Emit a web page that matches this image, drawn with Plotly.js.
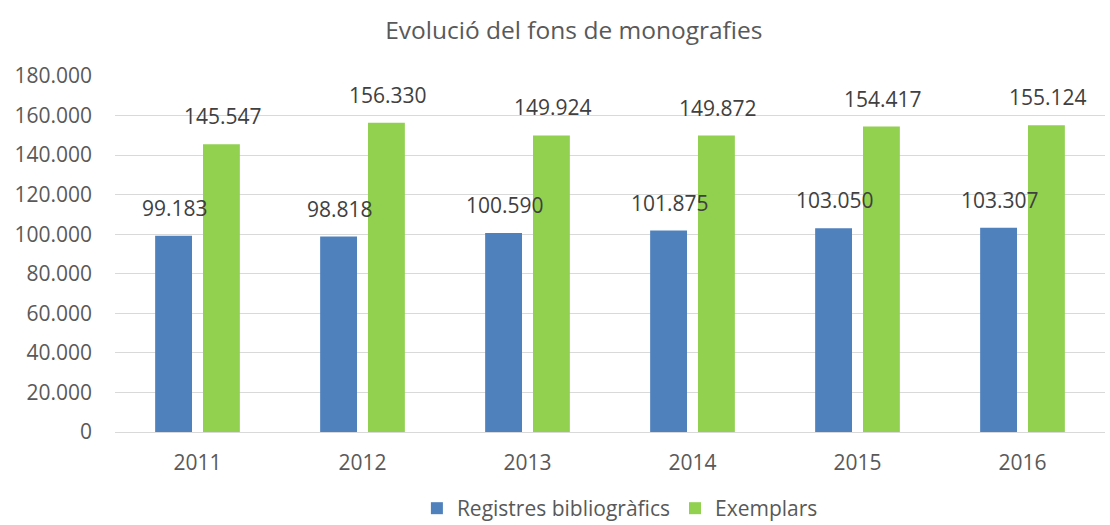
<!DOCTYPE html>
<html><head><meta charset="utf-8">
<script src="https://cdn.plot.ly/plotly-3.0.1.min.js"></script>
<style>html,body{margin:0;padding:0;background:#fff}#c{width:1110px;height:525px}</style>
</head><body><div id="c"></div>
<script>
const years = ['2011','2012','2013','2014','2015','2016'];
const registres = [99183, 98818, 100590, 101875, 103050, 103307];
const exemplars = [145547, 156330, 149924, 149872, 154417, 155124];
const seriesNames = ['Registres bibliogràfics', 'Exemplars'];
const tickVals = [0,20000,40000,60000,80000,100000,120000,140000,160000,180000];
const tickText = ['0','20.000','40.000','60.000','80.000','100.000','120.000','140.000','160.000','180.000'];

const fmt = v => v.toLocaleString('de-DE');
const font = "'Open Sans', sans-serif";
const grey = '#595959';

const annotations = [];
years.forEach((y,i)=>{
  annotations.push({x:y, y:registres[i], text:fmt(registres[i]), showarrow:false, xshift:-23, yanchor:'bottom', yshift:12, font:{family:font,size:21,color:'#404040'}});
  annotations.push({x:y, y:exemplars[i], text:fmt(exemplars[i]), showarrow:false, xshift:25, yanchor:'bottom', yshift:12, font:{family:font,size:21,color:'#404040'}});
});

const data = [
  {type:'bar', x:years, y:registres, name:seriesNames[0], marker:{color:'#4f81bd'}, hoverinfo:'none'},
  {type:'bar', x:years, y:exemplars, name:seriesNames[1], marker:{color:'#92d050'}, hoverinfo:'none'}
];
const layout = {
  width:1110, height:525,
  margin:{l:115, r:5, t:76, b:93, autoexpand:false},
  paper_bgcolor:'#fff', plot_bgcolor:'#fff',
  title:{text:'Evolució del fons de monografies', x:0.517, xanchor:'center', y:0.943, yanchor:'middle', font:{family:font,size:24.5,color:grey}},
  barmode:'group', bargap:0.42, bargroupgap:0.23,
  xaxis:{tickfont:{family:font,size:21,color:grey}, showline:true, linecolor:'#d9d9d9', linewidth:1, ticks:'', showgrid:false, automargin:false, ticklabelstandoff:12},
  yaxis:{range:[0,180000], tickvals:tickVals, ticktext:tickText, tickfont:{family:font,size:21,color:grey}, gridcolor:'#d9d9d9', gridwidth:1, zeroline:false, ticks:'', ticklabelstandoff:22, automargin:false},
  legend:{orientation:'h', x:0.51, xanchor:'center', y:-0.215, yanchor:'middle', font:{family:font,size:21,color:grey}, itemwidth:30},
  annotations:annotations,
  showlegend:true
};
Plotly.newPlot('c', data, layout, {staticPlot:true});
</script></body></html>
